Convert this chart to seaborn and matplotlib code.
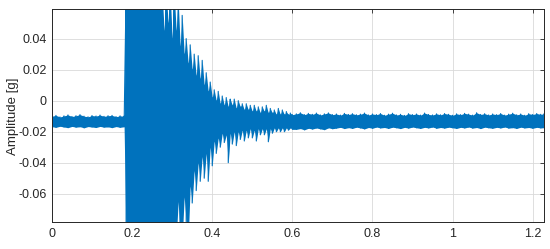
import numpy as np
import pandas as pd
import matplotlib
matplotlib.use("Agg")
import matplotlib.pyplot as plt
import seaborn as sns
from matplotlib.ticker import FuncFormatter

# envelope of the vibration record: time [s], upper / lower amplitude [g]
t_pre = [0.00, 0.01, 0.02, 0.03, 0.04, 0.05, 0.06, 0.07, 0.08, 0.09,
         0.10, 0.11, 0.12, 0.13, 0.14, 0.15, 0.16, 0.17, 0.18]
hi_pre = [-0.0100, -0.0095, -0.0105, -0.0098, -0.0092, -0.0102, -0.0097, -0.0090, -0.0100, -0.0104,
          -0.0096, -0.0099, -0.0093, -0.0101, -0.0097, -0.0095, -0.0103, -0.0098, -0.0100]
lo_pre = [-0.0168, -0.0172, -0.0165, -0.0170, -0.0174, -0.0166, -0.0171, -0.0168, -0.0175, -0.0167,
          -0.0170, -0.0173, -0.0166, -0.0171, -0.0169, -0.0174, -0.0167, -0.0172, -0.0168]

t_burst = [0.185, 0.190, 0.195, 0.200, 0.205, 0.210, 0.215, 0.220, 0.225, 0.230,
           0.235, 0.240, 0.245, 0.250, 0.255, 0.260, 0.265, 0.270, 0.275, 0.280,
           0.285, 0.290, 0.295, 0.300, 0.305, 0.310, 0.315, 0.320, 0.325, 0.330,
           0.335, 0.340, 0.345, 0.350, 0.355, 0.360, 0.365, 0.370, 0.375, 0.380,
           0.385, 0.390, 0.395, 0.400, 0.405, 0.410, 0.415, 0.420, 0.425, 0.430,
           0.435, 0.440, 0.445, 0.450, 0.455, 0.460, 0.465, 0.470, 0.475, 0.480,
           0.485, 0.490, 0.495, 0.500, 0.505, 0.510, 0.515, 0.520, 0.525, 0.530,
           0.535, 0.540, 0.545, 0.550, 0.555, 0.560, 0.565, 0.570, 0.575, 0.580,
           0.585, 0.590, 0.595, 0.600]
hi_burst = [0.07, 0.07, 0.07, 0.07, 0.07, 0.07, 0.07, 0.07, 0.07, 0.07,
            0.07, 0.07, 0.07, 0.07, 0.07, 0.07, 0.07, 0.07, 0.07, 0.045,
            0.07, 0.050, 0.07, 0.040, 0.07, 0.045, 0.065, 0.035, 0.055, 0.030,
            0.040, 0.024, 0.036, 0.020, 0.030, 0.016, 0.029, 0.014, 0.026, 0.010,
            0.018, 0.006, 0.012, 0.002, 0.007, 0.000, 0.006, -0.002, 0.003, -0.003,
            0.002, -0.004, 0.001, -0.003, 0.001, -0.005, 0.000, -0.004, -0.002, -0.006,
            -0.002, -0.006, -0.003, -0.007, -0.003, -0.007, -0.004, -0.008, -0.004, -0.007,
            -0.003, -0.008, -0.005, -0.008, -0.006, -0.009, -0.005, -0.009, -0.006, -0.009,
            -0.007, -0.009, -0.008, -0.009]
lo_burst = [-0.09, -0.09, -0.09, -0.09, -0.09, -0.09, -0.09, -0.09, -0.09, -0.09,
            -0.09, -0.09, -0.09, -0.09, -0.09, -0.09, -0.09, -0.09, -0.09, -0.09,
            -0.09, -0.09, -0.09, -0.09, -0.09, -0.09, -0.065, -0.09, -0.09, -0.062,
            -0.078, -0.09, -0.055, -0.066, -0.045, -0.058, -0.040, -0.052, -0.036, -0.050,
            -0.034, -0.052, -0.030, -0.042, -0.026, -0.034, -0.024, -0.030, -0.021, -0.027,
            -0.022, -0.040, -0.021, -0.028, -0.020, -0.029, -0.020, -0.025, -0.019, -0.026,
            -0.019, -0.024, -0.018, -0.024, -0.019, -0.026, -0.018, -0.022, -0.018, -0.022,
            -0.018, -0.0265, -0.018, -0.021, -0.0175, -0.020, -0.0175, -0.020, -0.0175, -0.020,
            -0.0175, -0.019, -0.0175, -0.0185]

t_post = [0.61, 0.62, 0.63, 0.64, 0.65, 0.66, 0.67, 0.68, 0.69, 0.70,
          0.71, 0.72, 0.73, 0.74, 0.75, 0.76, 0.77, 0.78, 0.79, 0.80,
          0.81, 0.82, 0.83, 0.84, 0.85, 0.86, 0.87, 0.88, 0.89, 0.90,
          0.91, 0.92, 0.93, 0.94, 0.95, 0.96, 0.97, 0.98, 0.99, 1.00,
          1.01, 1.02, 1.03, 1.04, 1.05, 1.06, 1.07, 1.08, 1.09, 1.10,
          1.11, 1.12, 1.13, 1.14, 1.15, 1.16, 1.17, 1.18, 1.19, 1.20,
          1.21, 1.22, 1.228]
hi_post = [-0.0085, -0.0078, -0.0090, -0.0082, -0.0088, -0.0080, -0.0092, -0.0085, -0.0079, -0.0090,
           -0.0086, -0.0093, -0.0082, -0.0089, -0.0084, -0.0091, -0.0087, -0.0080, -0.0092, -0.0086,
           -0.0090, -0.0083, -0.0094, -0.0087, -0.0081, -0.0092, -0.0088, -0.0095, -0.0084, -0.0090,
           -0.0086, -0.0093, -0.0080, -0.0089, -0.0092, -0.0085, -0.0091, -0.0083, -0.0088, -0.0094,
           -0.0085, -0.0090, -0.0082, -0.0087, -0.0093, -0.0078, -0.0089, -0.0084, -0.0092, -0.0086,
           -0.0090, -0.0083, -0.0093, -0.0087, -0.0081, -0.0091, -0.0086, -0.0094, -0.0084, -0.0089,
           -0.0083, -0.0088, -0.0085]
lo_post = [-0.0185, -0.0180, -0.0188, -0.0178, -0.0183, -0.0176, -0.0182, -0.0187, -0.0175, -0.0181,
           -0.0177, -0.0172, -0.0180, -0.0174, -0.0179, -0.0171, -0.0176, -0.0182, -0.0173, -0.0178,
           -0.0170, -0.0176, -0.0173, -0.0179, -0.0171, -0.0175, -0.0180, -0.0172, -0.0177, -0.0170,
           -0.0175, -0.0179, -0.0172, -0.0176, -0.0170, -0.0178, -0.0173, -0.0177, -0.0171, -0.0175,
           -0.0179, -0.0172, -0.0176, -0.0170, -0.0177, -0.0173, -0.0180, -0.0171, -0.0175, -0.0178,
           -0.0172, -0.0176, -0.0170, -0.0177, -0.0174, -0.0179, -0.0171, -0.0176, -0.0173, -0.0178,
           -0.0172, -0.0176, -0.0174]

x_ticks = [0, 0.2, 0.4, 0.6, 0.8, 1.0, 1.2]
y_ticks = [-0.06, -0.04, -0.02, 0, 0.02, 0.04]

t = np.array(t_pre + t_burst + t_post)
hi = np.array(hi_pre + hi_burst + hi_post)
lo = np.array(lo_pre + lo_burst + lo_post)

# trace alternates between upper and lower envelope at every sample
df = pd.DataFrame({
    "time": np.column_stack([t, t]).ravel(),
    "amp": np.column_stack([hi, lo]).ravel(),
})

sns.set_style("white")
plt.rcParams["font.family"] = ["Liberation Sans", "DejaVu Sans"]
plt.rcParams["axes.unicode_minus"] = False

blue = "#0072BD"
fig = plt.figure(figsize=(5.5, 2.49), dpi=100)
ax = fig.add_axes([0.0945, 0.108, 0.8945, 0.854])

ax.fill_between(t, lo, hi, color=blue, linewidth=0)
sns.lineplot(data=df, x="time", y="amp", sort=False, estimator=None,
             color=blue, linewidth=0.8, ax=ax)

ax.set_xlim(0, 1.228)
ax.set_ylim(-0.0783, 0.0588)
ax.set_xticks(x_ticks)
ax.set_yticks(y_ticks)
fmt = FuncFormatter(lambda v, _: f"{v:g}")
ax.xaxis.set_major_formatter(fmt)
ax.yaxis.set_major_formatter(fmt)

ax.grid(True, color="#d9d9d9", linewidth=0.6)
ax.set_axisbelow(True)
ax.tick_params(direction="in", length=3, width=0.6, colors="#262626",
               labelsize=9, top=True, right=True, pad=4)
for s in ax.spines.values():
    s.set_color("#262626")
    s.set_linewidth(0.7)

ax.set_xlabel("")
ax.set_ylabel("Amplitude [g]", fontsize=9.5, color="#262626")
ax.yaxis.set_label_coords(-0.068, 0.5)

fig.savefig("out.png", dpi=100)
